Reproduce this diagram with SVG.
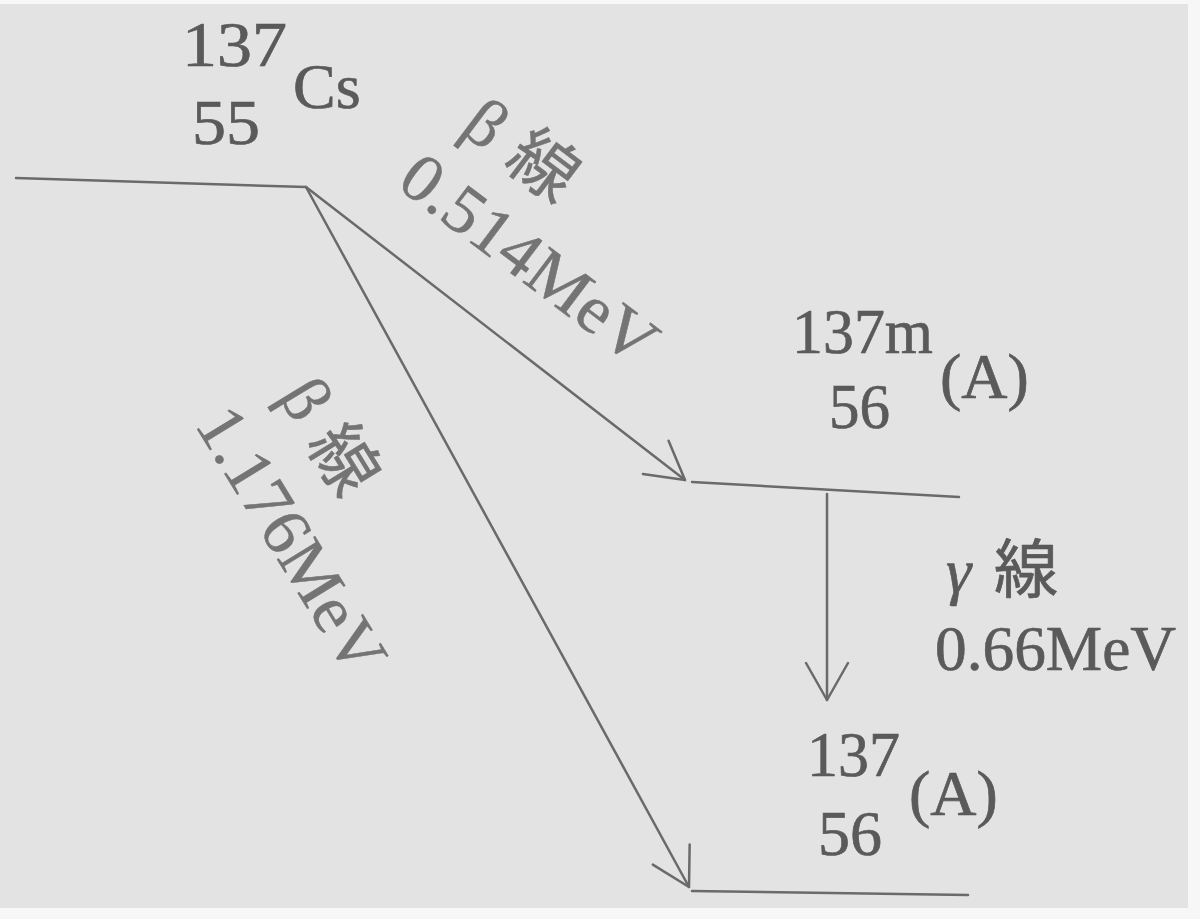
<svg xmlns="http://www.w3.org/2000/svg" width="1200" height="919" viewBox="0 0 1200 919">
<style>
.num{font-family:"Liberation Serif","Noto Sans CJK JP",serif;font-size:64px;fill:#5a5a5a;stroke:#5a5a5a;stroke-width:0.7}
.rot{font-family:"Liberation Serif","Noto Sans CJK JP",serif;font-size:68px;fill:#747474;stroke:#747474;stroke-width:0.5}
.cjk{font-family:"Noto Sans CJK JP",sans-serif}
.ln{stroke:#6a6a6a;stroke-width:2.5;fill:none;stroke-linecap:round}
</style>
<defs>
<marker id="ah" markerUnits="userSpaceOnUse" viewBox="-46 -26 50 52" refX="0" refY="0" markerWidth="50" markerHeight="52" orient="auto" overflow="visible">
<path d="M-37,-21 L0,0 L-37,21" fill="none" stroke="#6a6a6a" stroke-width="2.5" stroke-linecap="round" stroke-linejoin="round"/>
</marker>
</defs>
<rect x="0" y="0" width="1200" height="919" fill="#f7f7f7"/>
<rect x="0" y="4" width="1188" height="904" fill="#e3e3e3"/>

<g id="connectors">
<line class="ln" x1="16" y1="178" x2="306" y2="187"/>
<line class="ln" x1="306" y1="187" x2="685" y2="480" marker-end="url(#ah)"/>
<line class="ln" x1="306" y1="187" x2="689" y2="887" marker-end="url(#ah)"/>
<line class="ln" x1="692" y1="482" x2="959" y2="497"/>
<line class="ln" x1="827" y1="494" x2="827" y2="700" marker-end="url(#ah)"/>
<line class="ln" x1="692" y1="891" x2="968" y2="895"/>
</g>

<g id="cs137">
<text class="num" x="182" y="66" textLength="105" lengthAdjust="spacingAndGlyphs">137</text>
<text class="num" x="293" y="108">Cs</text>
<text class="num" x="192" y="144" textLength="68" lengthAdjust="spacingAndGlyphs">55</text>
</g>

<g id="beta1" transform="translate(395,186) rotate(37)">
<text class="rot" x="0" y="0" textLength="302" lengthAdjust="spacingAndGlyphs">0.514MeV</text>
<text class="rot" x="18" y="-82" font-size="56"><tspan>β</tspan><tspan class="cjk" dx="20">線</tspan></text>
</g>

<g id="beta2" transform="translate(194,424) rotate(58.5)">
<text class="rot" x="0" y="0" textLength="300" lengthAdjust="spacingAndGlyphs">1.176MeV</text>
<text class="rot" x="20" y="-86" font-size="56"><tspan>β</tspan><tspan class="cjk" dx="20">線</tspan></text>
</g>

<g id="ba137m">
<text class="num" x="792" y="353" textLength="141" lengthAdjust="spacingAndGlyphs">137m</text>
<text class="num" x="940" y="398" font-size="60">(A)</text>
<text class="num" x="829" y="428" textLength="61" lengthAdjust="spacingAndGlyphs">56</text>
</g>

<g id="gamma">
<text class="num" x="946" y="592" font-size="58"><tspan font-style="italic">γ</tspan><tspan class="cjk" x="994">線</tspan></text>
<text class="num" x="935" y="670" textLength="241" lengthAdjust="spacingAndGlyphs">0.66MeV</text>
</g>

<g id="ba137">
<text class="num" x="807" y="776" textLength="93" lengthAdjust="spacingAndGlyphs">137</text>
<text class="num" x="909" y="815" font-size="60">(A)</text>
<text class="num" x="818" y="855" textLength="64" lengthAdjust="spacingAndGlyphs">56</text>
</g>
</svg>
